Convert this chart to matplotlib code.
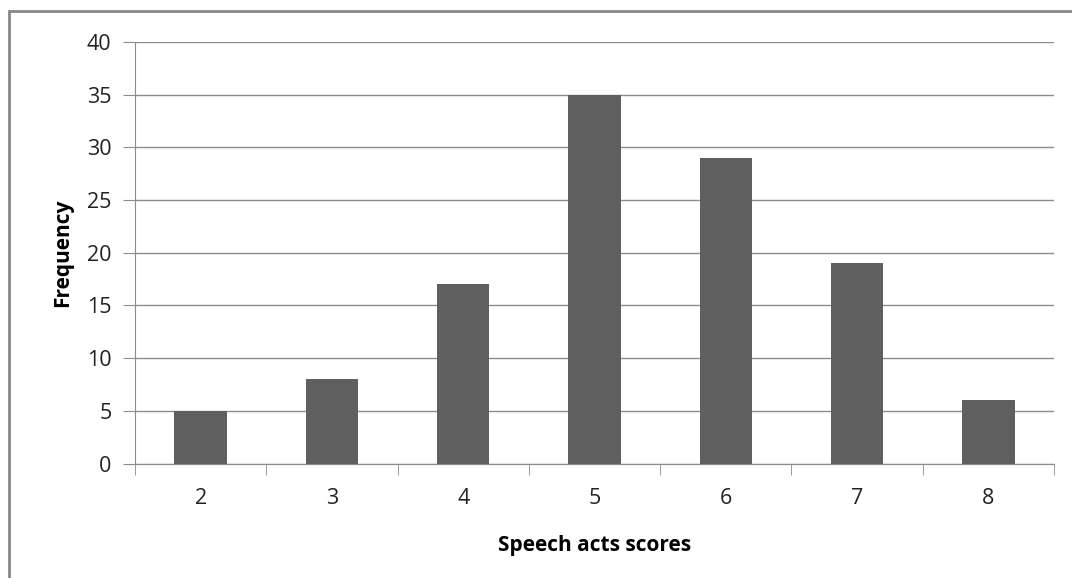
import matplotlib.pyplot as plt
from matplotlib.patches import Rectangle

scores = ["2", "3", "4", "5", "6", "7", "8"]
frequency = [5, 8, 17, 35, 29, 19, 6]

plt.rcParams["font.family"] = ["Open Sans", "DejaVu Sans"]

fig = plt.figure(figsize=(10.72, 5.78), dpi=100)
ax = fig.add_axes([135 / 1072, 1 - 463.5 / 578, 919 / 1072, 421.5 / 578])

grid_color = "#8c8c8c"
x = range(len(scores))
ax.bar(x, frequency, width=0.4, color="#5f5f5f", zorder=3)

ax.set_xlim(-0.5, len(scores) - 0.5)
ax.set_ylim(0, 40)
ax.set_yticks(range(0, 41, 5))
ax.yaxis.grid(True, color=grid_color, linewidth=1)
ax.set_axisbelow(True)

ax.set_xticks(list(x))
ax.set_xticklabels(scores)
ax.set_xticks([i - 0.5 for i in range(len(scores) + 1)], minor=True)
ax.tick_params(axis="x", which="major", length=0, pad=18, labelsize=15.5,
               labelcolor="#222222")
ax.tick_params(axis="x", which="minor", length=8, color=grid_color, direction="out")
ax.tick_params(axis="y", length=9, color=grid_color, pad=8, labelsize=15.5,
               labelcolor="#222222")

for side in ["top", "right"]:
    ax.spines[side].set_visible(False)
for side in ["left", "bottom"]:
    ax.spines[side].set_color(grid_color)

ax.set_xlabel("Speech acts scores", fontsize=15, fontweight="bold", labelpad=18)
ax.set_ylabel("Frequency", fontsize=15, fontweight="bold", labelpad=10)

# grey frame round the chart (right and bottom edges fall outside the image)
fig.patches.append(Rectangle((9 / 1072, -10 / 578), 1080 / 1072, 577 / 578,
                             transform=fig.transFigure, fill=False,
                             edgecolor="#888888", linewidth=2))

fig.savefig("out.png", dpi=100)
